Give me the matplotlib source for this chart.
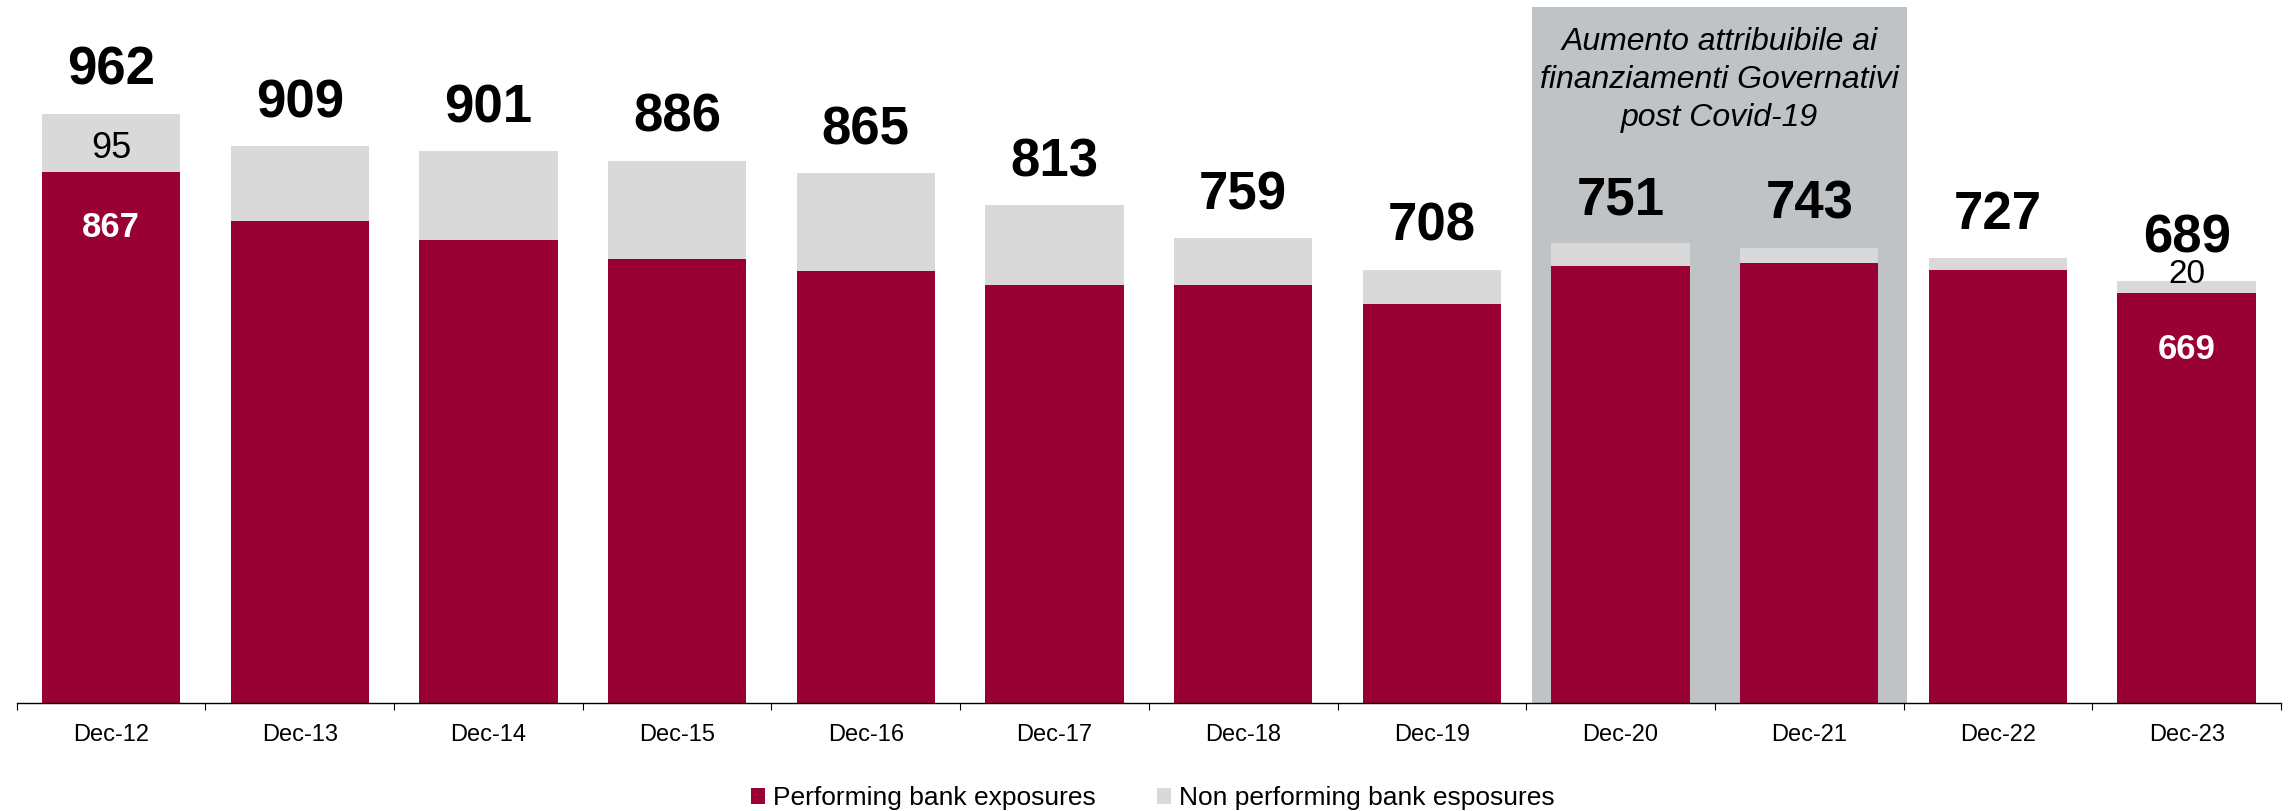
import matplotlib
matplotlib.use("Agg")
import matplotlib.pyplot as plt
import numpy as np

plt.rcParams['font.family'] = ['Liberation Sans', 'DejaVu Sans']

# values (bn)
periods = ['Dec-12', 'Dec-13', 'Dec-14', 'Dec-15', 'Dec-16', 'Dec-17',
           'Dec-18', 'Dec-19', 'Dec-20', 'Dec-21', 'Dec-22', 'Dec-23']
performing = [867, 787, 756, 726, 705, 682, 683, 652, 713, 718, 707, 669]
non_performing = [95, 122, 145, 160, 160, 131, 76, 56, 38, 25, 20, 20]
covid_note = "Aumento attribuibile ai\nfinanziamenti Governativi\npost Covid-19"

totals = [p + n for p, n in zip(performing, non_performing)]
x = np.arange(len(periods))

fig = plt.figure(figsize=(22.92, 8.11), dpi=100)
ax = fig.add_axes([0.0073, 0.1328, 0.9879, 0.8672])
ax.set_xlim(-0.5, len(periods) - 0.5)
ax.set_ylim(0, 1148)

# shaded box behind Dec-20 / Dec-21
ax.axvspan(7.53, 9.52, ymin=0, ymax=1137 / 1148, color='#BFC3C6', lw=0, zorder=0)
ax.text(8.525, 1018, covid_note, ha='center', va='center', fontsize=23,
        style='italic', linespacing=1.35)

bar_w = 0.733
ax.bar(x, performing, width=bar_w, color='#990033', zorder=2,
       label='Performing bank exposures')
ax.bar(x, non_performing, bottom=performing, width=bar_w, color='#D9D9D9', zorder=2,
       label='Non performing bank esposures')

# totals on top
for i, t in enumerate(totals):
    ax.annotate(str(t), (i, t), xytext=(0, 21), textcoords='offset points',
                ha='center', va='baseline', fontsize=38, fontweight='bold')

# split labels for first and last year
for i in [0, len(periods) - 1]:
    ax.annotate(str(performing[i]), (i, performing[i]), xytext=(0, -40),
                textcoords='offset points', ha='center', va='center',
                fontsize=25, fontweight='bold', color='white')
ax.annotate(str(non_performing[0]), (0, performing[0] + non_performing[0] / 2),
            xytext=(0, -4), textcoords='offset points',
            ha='center', va='center', fontsize=26)
ax.annotate(str(non_performing[-1]), (x[-1], totals[-1]), xytext=(0, -1),
            textcoords='offset points', ha='center', va='baseline', fontsize=24)

# axis styling
for s in ['top', 'right', 'left']:
    ax.spines[s].set_visible(False)
ax.spines['bottom'].set_linewidth(1)
ax.set_yticks([])
ax.set_xticks(x, periods)
ax.tick_params(axis='x', which='major', length=0, pad=15, labelsize=17)
ax.set_xticks(np.arange(-0.5, len(periods), 1), minor=True)
ax.tick_params(axis='x', which='minor', length=5, width=0.8, direction='out')

fig.legend(loc='center', bbox_to_anchor=(0.503, 0.016), ncol=2, frameon=False,
           fontsize=19, handlelength=0.55, handleheight=0.55, handletextpad=0.3,
           columnspacing=2.3)

fig.savefig('out.png', dpi=100)
